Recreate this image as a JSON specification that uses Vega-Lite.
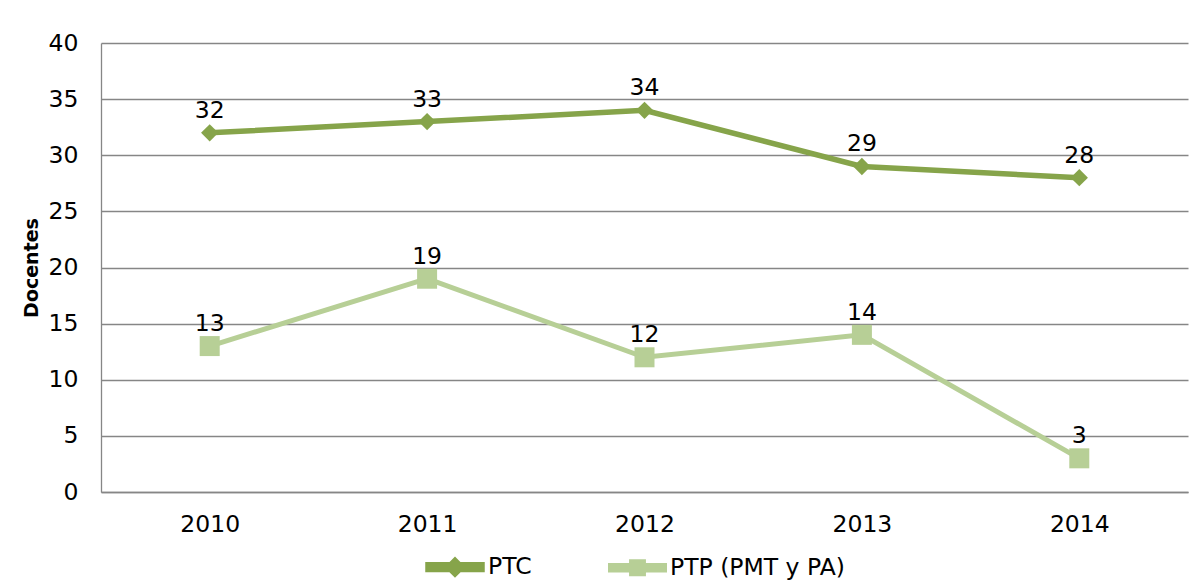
{
  "$schema": "https://vega.github.io/schema/vega-lite/v6.json",
  "width": 1087,
  "height": 449,
  "autosize": {"type": "none"},
  "padding": {"left": 101, "top": 43, "right": 12, "bottom": 89},
  "background": "white",
  "config": {"view": {"stroke": null}, "font": "DejaVu Sans"},
  "data": {
    "values": [
      {"year": "2010", "series": "PTC", "value": 32},
      {"year": "2011", "series": "PTC", "value": 33},
      {"year": "2012", "series": "PTC", "value": 34},
      {"year": "2013", "series": "PTC", "value": 29},
      {"year": "2014", "series": "PTC", "value": 28},
      {"year": "2010", "series": "PTP (PMT y PA)", "value": 13},
      {"year": "2011", "series": "PTP (PMT y PA)", "value": 19},
      {"year": "2012", "series": "PTP (PMT y PA)", "value": 12},
      {"year": "2013", "series": "PTP (PMT y PA)", "value": 14},
      {"year": "2014", "series": "PTP (PMT y PA)", "value": 3}
    ]
  },
  "encoding": {
    "x": {
      "field": "year",
      "type": "ordinal",
      "scale": {"type": "point", "padding": 0.5},
      "axis": {
        "title": null,
        "labelAngle": 0,
        "labelFontSize": 23.5,
        "labelColor": "black",
        "labelPadding": 20,
        "ticks": false,
        "domainColor": "#868686",
        "domainWidth": 1.3
      }
    },
    "y": {
      "field": "value",
      "type": "quantitative",
      "scale": {"domain": [0, 40]},
      "axis": {
        "values": [0, 5, 10, 15, 20, 25, 30, 35, 40],
        "title": "Docentes",
        "titleFontSize": 19,
        "titleFontWeight": "bold",
        "titleColor": "black",
        "titleAngle": -90,
        "titleX": -70,
        "titleY": 224.5,
        "titleAlign": "center",
        "titleBaseline": "middle",
        "labelFontSize": 23.5,
        "labelColor": "black",
        "labelPadding": 23,
        "ticks": false,
        "grid": true,
        "gridColor": "#868686",
        "gridWidth": 1.3,
        "domainColor": "#868686",
        "domainWidth": 1.3
      }
    }
  },
  "layer": [
    {
      "mark": {
        "type": "point",
        "filled": true,
        "opacity": 0,
        "shape": {"expr": "datum.value === 'PTC' ? 'M-1,-0.09H1V0.09H-1Z M0,-0.25L0.25,0L0,0.25L-0.25,0Z' : 'M-1,-0.085H1V0.085H-1Z M-0.22,-0.22H0.22V0.22H-0.22Z'"}
      },
      "encoding": {
        "color": {
          "field": "series",
          "type": "nominal",
          "scale": {"domain": ["PTC", "PTP (PMT y PA)"], "range": ["#86A44A", "#B7CF96"]},
          "legend": {
            "orient": "none",
            "legendX": 324,
            "legendY": 494,
            "direction": "horizontal",
            "title": null,
            "labelFontSize": 23.5,
            "labelColor": "black",
            "labelLimit": 500,
            "labelOffset": 3,
            "columnPadding": 68,
            "padding": 0,
            "symbolSize": 2916,
            "symbolStrokeWidth": 0,
            "symbolOpacity": 1
          }
        }
      }
    },
    {
      "mark": {"type": "line"},
      "encoding": {
        "color": {"field": "series", "type": "nominal", "legend": null},
        "strokeWidth": {
          "field": "series",
          "type": "nominal",
          "scale": {"domain": ["PTC", "PTP (PMT y PA)"], "range": [5.5, 5]},
          "legend": null
        }
      }
    },
    {
      "transform": [{"filter": "datum.series === 'PTC'"}],
      "mark": {"type": "point", "filled": true, "opacity": 1, "shape": "diamond", "size": 300},
      "encoding": {
        "color": {"field": "series", "type": "nominal", "legend": null}
      }
    },
    {
      "transform": [{"filter": "datum.series !== 'PTC'"}],
      "mark": {"type": "point", "filled": true, "opacity": 1, "shape": "square", "size": 400},
      "encoding": {
        "color": {"field": "series", "type": "nominal", "legend": null}
      }
    },
    {
      "mark": {"type": "text", "dy": -15, "baseline": "alphabetic", "fontSize": 23.5, "color": "black"},
      "encoding": {
        "text": {"field": "value", "type": "quantitative"}
      }
    }
  ]
}
